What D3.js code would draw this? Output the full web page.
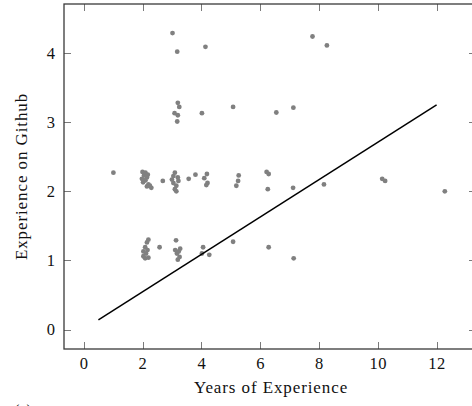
<!DOCTYPE html>
<html>
<head>
<meta charset="utf-8">
<script src="https://cdn.jsdelivr.net/npm/d3@7"></script>
<style>
  html, body { margin: 0; padding: 0; background: #fff; }
  svg { display: block; }
  text { font-family: "Liberation Serif", "DejaVu Serif", serif; fill: #111; }
</style>
</head>
<body>
<svg id="chart" width="472" height="406"></svg>
<script>
// Years of professional experience for each respondent
const yearsExperience = [
  3.02, 3.18, 4.14, 7.78, 8.27,
  3.20, 3.25, 3.09, 3.20, 3.18, 4.02, 5.08, 6.55, 7.13,
  1.01,
  2.00, 2.10, 2.05, 2.15, 1.98, 2.10, 2.02, 2.20, 2.15, 2.30, 2.25, 2.18,
  2.69,
  3.10, 3.05, 3.20, 3.00, 3.22, 3.05, 3.15, 3.10, 3.15,
  3.57, 3.80,
  4.19, 4.10, 4.21, 4.17,
  5.27, 5.25, 5.19,
  6.22, 6.29, 6.26,
  7.12, 8.17, 10.15, 10.25, 12.28,
  2.20, 2.15, 2.09, 2.17, 2.03, 2.12, 2.03, 2.20, 2.09,
  2.58,
  3.14, 3.11, 3.23, 3.28, 3.17, 3.26, 3.20,
  4.06, 4.02, 4.27, 5.08, 6.29, 7.14
];

// Experience on Github for the same respondents
const githubExperience = [
  4.29, 4.02, 4.09, 4.24, 4.11,
  3.28, 3.22, 3.13, 3.10, 3.01, 3.13, 3.22, 3.14, 3.21,
  2.27,
  2.28, 2.27, 2.23, 2.20, 2.18, 2.16, 2.13, 2.10, 2.07, 2.05, 2.08, 2.24,
  2.15,
  2.27, 2.22, 2.20, 2.17, 2.15, 2.12, 2.08, 2.03, 2.00,
  2.18, 2.24,
  2.25, 2.19, 2.12, 2.09,
  2.23, 2.15, 2.08,
  2.28, 2.25, 2.03,
  2.05, 2.10, 2.18, 2.15, 2.00,
  1.30, 1.26, 1.19, 1.15, 1.13, 1.10, 1.06, 1.04, 1.03,
  1.19,
  1.29, 1.15, 1.13, 1.17, 1.10, 1.05, 1.01,
  1.19, 1.10, 1.08, 1.27, 1.19, 1.03
];

// Linear fit endpoints
const fitX = [0.5, 12];
const fitY = [0.14, 3.25];

const xTicks = [0, 2, 4, 6, 8, 10, 12];
const yTicks = [0, 1, 2, 3, 4];
const xTitle = "Years of Experience";
const yTitle = "Experience on Github";
const panelLabel = "(a)";

const svg = d3.select("#chart");
const plotL = 64, plotR = 476, plotT = 4, plotB = 349;
const tickLen = 7;

const x = d3.scaleLinear().domain([-0.67, 13.34]).range([plotL, plotR]);
const y = d3.scaleLinear().domain([-0.282, 4.71]).range([plotB, plotT]);

// Bottom axis with labels
const gx = svg.append("g").attr("transform", `translate(0,${plotB})`)
  .call(d3.axisBottom(x).tickValues(xTicks).tickSize(0).tickPadding(8).tickFormat(d3.format("d")));
gx.select(".domain").remove();
gx.selectAll("text").attr("font-size", 16.5).attr("letter-spacing", 0.6)
  .attr("font-family", "Liberation Serif, serif").attr("fill", "#111");

// Left axis with labels
const gy = svg.append("g").attr("transform", `translate(${plotL},0)`)
  .call(d3.axisLeft(y).tickValues(yTicks).tickSize(0).tickPadding(9).tickFormat(d3.format("d")));
gy.select(".domain").remove();
gy.selectAll("text").attr("font-size", 16.5)
  .attr("font-family", "Liberation Serif, serif").attr("fill", "#111");

// Inward ticks on all four sides
const ticks = svg.append("g").attr("stroke", "#7a7a7a").attr("stroke-width", 1);
xTicks.forEach(t => {
  const px = Math.round(x(t)) + 0.5;
  ticks.append("line").attr("x1", px).attr("x2", px).attr("y1", plotB).attr("y2", plotB - tickLen);
  ticks.append("line").attr("x1", px).attr("x2", px).attr("y1", plotT).attr("y2", plotT + tickLen);
});
yTicks.forEach(t => {
  const py = Math.round(y(t)) + 0.5;
  ticks.append("line").attr("x1", plotL).attr("x2", plotL + tickLen).attr("y1", py).attr("y2", py);
  ticks.append("line").attr("x1", plotR).attr("x2", plotR - tickLen).attr("y1", py).attr("y2", py);
});

// Scatter points
const pts = d3.zip(yearsExperience, githubExperience);
svg.append("g").selectAll("circle").data(pts).join("circle")
  .attr("cx", d => x(d[0]))
  .attr("cy", d => y(d[1]))
  .attr("r", 2.4)
  .attr("fill", "#808080");

// Regression line
svg.append("path")
  .datum(d3.zip(fitX, fitY))
  .attr("d", d3.line().x(d => x(d[0])).y(d => y(d[1])))
  .attr("fill", "none")
  .attr("stroke", "#000")
  .attr("stroke-width", 1.5);

// Frame
svg.append("rect")
  .attr("x", plotL).attr("y", plotT)
  .attr("width", plotR - plotL).attr("height", plotB - plotT)
  .attr("fill", "none").attr("stroke", "#3a3a3a").attr("stroke-width", 1.3);

// Axis titles
svg.append("text")
  .attr("x", 271).attr("y", 393)
  .attr("text-anchor", "middle").attr("font-size", 17).attr("letter-spacing", 0.9)
  .text(xTitle);

svg.append("text")
  .attr("transform", `translate(27,${(plotT + plotB) / 2}) rotate(-90)`)
  .attr("text-anchor", "middle").attr("font-size", 17).attr("letter-spacing", 0.9)
  .text(yTitle);

// Sub-figure label
svg.append("text")
  .attr("x", 14).attr("y", 416).attr("font-size", 16)
  .text(panelLabel);
</script>
</body>
</html>
